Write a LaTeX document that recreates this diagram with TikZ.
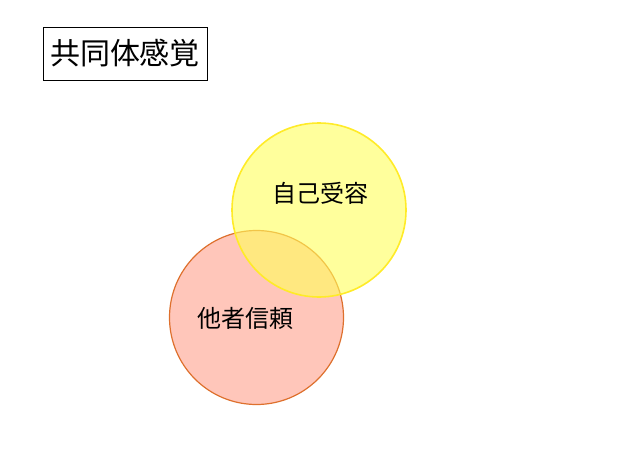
\documentclass[tikz,border=0pt]{standalone}
\usepackage{fontspec}
\newfontfamily\cjk{Noto Sans CJK JP}
\definecolor{yfill}{RGB}{255,255,90}
\definecolor{ydraw}{RGB}{255,235,40}
\definecolor{rfill}{RGB}{255,198,186}
\definecolor{rdraw}{RGB}{222,112,45}
\tikzset{
  titlebox/.style={draw=black, line width=0.8pt, minimum width=164pt, minimum height=53pt, inner sep=0pt, font=\cjk\fontsize{30}{34}\selectfont},
  lbl/.style={font=\cjk\fontsize{24}{28}\selectfont, inner sep=0pt},
  circY/.style={circle, minimum size=174pt, inner sep=0pt, draw=ydraw, line width=1.6pt, fill=yfill, fill opacity=0.6},
  circR/.style={circle, minimum size=174pt, inner sep=0pt, draw=rdraw, line width=1.2pt, fill=rfill},
}
\begin{document}
\begin{tikzpicture}[x=1pt,y=-1pt]
\useasboundingbox (0,0) rectangle (638,452);
\node[titlebox] (title) at (125,53.5) {共同体感覚};
\node[circR] (red) at (256.5,317.5) {};
\node[circY] (yellow) at (319,210) {};
\node[lbl] (ya) at (320,193) {自己受容};
\node[lbl] (tr) at (245,318) {他者信頼};
\end{tikzpicture}
\end{document}
